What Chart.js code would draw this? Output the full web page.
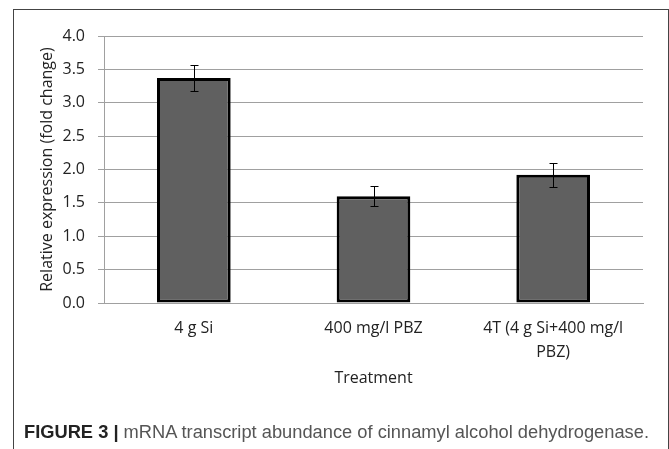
<!DOCTYPE html>
<html>
<head>
<meta charset="utf-8">
<script src="https://cdn.jsdelivr.net/npm/chart.js@4"></script>
<style>
  html, body { margin: 0; padding: 0; background: #fff; }
  #wrap { position: relative; width: 669px; height: 449px; overflow: hidden; }
  #frame {
    position: absolute; left: 13px; top: 9px; width: 654px; height: 460px;
    border-left: 1px solid #444; border-top: 1px solid #444; border-right: 1px solid #444;
  }
  canvas { position: absolute; left: 0; top: 0; }
  #caption {
    position: absolute; left: 24px; top: 421px; white-space: nowrap;
    font-family: "Liberation Sans", Arial, sans-serif; font-size: 18.3px; line-height: 22px; color: #555;
  }
  #caption b { color: #222; }
</style>
</head>
<body>
<div id="wrap">
  <div id="frame"></div>
  <canvas id="myChart" width="669" height="449"></canvas>
  <div id="caption"><b>FIGURE 3 |</b> mRNA transcript abundance of cinnamyl alcohol dehydrogenase.</div>
</div>
<script>
var categories = [['4 g Si'], ['400 mg/l PBZ'], ['4T (4 g Si+400 mg/l', 'PBZ)']];
var expression = [3.37, 1.6, 1.92];
var errors = [0.2, 0.15, 0.18];

// error bars drawn on the bar scale
var errorBars = {
    id: 'errorBars',
    afterDatasetsDraw: function (chart) {
        var c = chart.ctx;
        var meta = chart.getDatasetMeta(0);
        var y = chart.scales.y;
        c.save();
        c.strokeStyle = '#000';
        c.lineWidth = 1;
        meta.data.forEach(function (bar, i) {
            var x = Math.round(bar.x) + 0.5;
            var top = Math.round(y.getPixelForValue(expression[i] + errors[i])) + 0.5;
            var bot = Math.round(y.getPixelForValue(expression[i] - errors[i])) + 0.5;
            c.beginPath();
            c.moveTo(x, top); c.lineTo(x, bot);
            c.moveTo(x - 4, top); c.lineTo(x + 4, top);
            c.moveTo(x - 4, bot); c.lineTo(x + 4, bot);
            c.stroke();
        });
        c.restore();
    }
};

var ctx = document.getElementById('myChart').getContext('2d');
var myChart = new Chart(ctx, {
    type: 'bar',
    data: {
        labels: categories,
        datasets: [{
            data: expression,
            backgroundColor: '#606060',
            borderColor: '#000',
            borderWidth: 3,
            borderSkipped: false,
            barPercentage: 0.41,
            categoryPercentage: 1
        }]
    },
    options: {
        responsive: false,
        animation: false,
        layout: { padding: { left: 14, right: 26, top: 36, bottom: 46 } },
        plugins: {
            legend: { display: false },
            tooltip: { enabled: false }
        },
        scales: {
            x: {
                grid: { display: false, drawTicks: false },
                border: { display: true, color: '#a0a0a0' },
                ticks: {
                    color: '#222',
                    padding: 13,
                    maxRotation: 0,
                    font: { family: 'Open Sans', size: 16, lineHeight: 1.5 }
                },
                title: {
                    display: true,
                    text: 'Treatment',
                    color: '#222',
                    padding: { top: 0, bottom: 16 },
                    font: { family: 'Open Sans', size: 16, lineHeight: 1.125 }
                },
                afterFit: function (s) { s.height = 100; }
            },
            y: {
                min: 0,
                max: 4,
                ticks: {
                    stepSize: 0.5,
                    color: '#222',
                    padding: 13,
                    font: { family: 'Open Sans', size: 16 },
                    callback: function (v) { return v.toFixed(1); }
                },
                grid: { color: '#a0a0a0', tickLength: 6 },
                border: { color: '#a0a0a0' },
                title: {
                    display: true,
                    text: 'Relative expression (fold change)',
                    color: '#222',
                    padding: { top: 24, bottom: 0 },
                    font: { family: 'Open Sans', size: 16, lineHeight: 1.125 }
                },
                afterFit: function (s) { s.width = 90; }
            }
        }
    },
    plugins: [errorBars]
});
</script>
</body>
</html>
